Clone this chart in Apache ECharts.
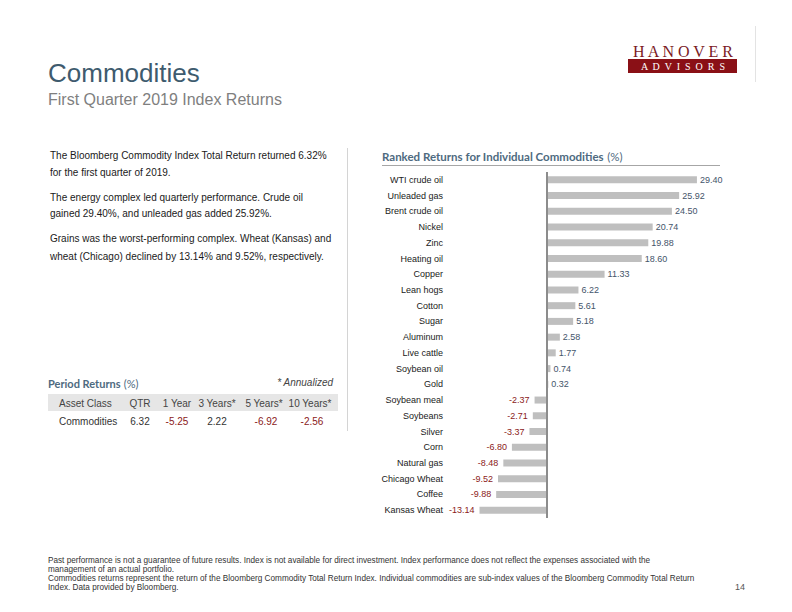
<!DOCTYPE html>
<html>
<head>
<meta charset="utf-8">
<script src="https://cdn.jsdelivr.net/npm/echarts@6/dist/echarts.min.js"></script>
<style>
html,body{margin:0;padding:0;background:#fff;}
#chart{width:792px;height:612px;}
</style>
</head>
<body>
<div id="chart"></div>
<script>
// ---- data ----
const commodities = ['WTI crude oil','Unleaded gas','Brent crude oil','Nickel','Zinc','Heating oil','Copper','Lean hogs','Cotton','Sugar','Aluminum','Live cattle','Soybean oil','Gold','Soybean meal','Soybeans','Silver','Corn','Natural gas','Chicago Wheat','Coffee','Kansas Wheat'];
const returns = [29.40, 25.92, 24.50, 20.74, 19.88, 18.60, 11.33, 6.22, 5.61, 5.18, 2.58, 1.77, 0.74, 0.32, -2.37, -2.71, -3.37, -6.80, -8.48, -9.52, -9.88, -13.14];

const periodHeaders = ['Asset Class','QTR','1 Year','3 Years*','5 Years*','10 Years*'];
const periodAsset = 'Commodities';
const periodValues = [6.32, -5.25, 2.22, -6.92, -2.56];

const bodyLines = [
  ['The Bloomberg Commodity Index Total Return returned 6.32%', 'for the first quarter of 2019.'],
  ['The energy complex led quarterly performance. Crude oil', 'gained 29.40%, and unleaded gas added 25.92%.'],
  ['Grains was the worst-performing complex. Wheat (Kansas) and', 'wheat (Chicago) declined by 13.14% and 9.52%, respectively.']
];
const footerLines = [
  'Past performance is not a guarantee of future results. Index is not available for direct investment. Index performance does not reflect the expenses associated with the',
  'management of an actual portfolio.',
  'Commodities returns represent the return of the Bloomberg Commodity Total Return Index. Individual commodities are sub-index values of the Bloomberg Commodity Total Return',
  'Index. Data provided by Bloomberg.'
];

// ---- styles ----
const SANS = '"Liberation Sans", Arial, sans-serif';
const HUM = 'Lato, "Open Sans", sans-serif';
const POS = '#44546a';
const NEG = '#8b1a1a';
const TITLE_C = '#4e6a80';

const chart = echarts.init(document.getElementById('chart'), null, {renderer: 'svg'});

function txt(x, y, s, font, fill, align, extra) {
  return Object.assign({
    type: 'text', x: x, y: y, silent: true,
    style: {text: s, font: font, fill: fill, textAlign: align || 'left', textVerticalAlign: 'middle'}
  }, extra || {});
}
function richTitle(x, y, main, size) {
  return {
    type: 'text', x: x, y: y, silent: true,
    style: {
      text: '{b|' + main + '} {n|(%)}',
      textAlign: 'left', textVerticalAlign: 'middle',
      rich: {
        b: {fontFamily: HUM, fontWeight: 'bold', fontSize: size, fill: TITLE_C},
        n: {fontFamily: HUM, fontSize: size, fill: TITLE_C}
      }
    }
  };
}

const graphics = [];
// header
graphics.push(txt(48, 73, 'Commodities', '26px ' + SANS, '#3e5b6e'));
graphics.push(txt(48, 99, 'First Quarter 2019 Index Returns', '16px ' + SANS, '#7f7f7f'));
// logo
graphics.push(txt(683, 51, 'H A N O V E R', '16px "Liberation Serif", "DejaVu Serif", serif', '#7a1a1f', 'center'));
graphics.push({type: 'rect', shape: {x: 628, y: 59, width: 109, height: 14}, style: {fill: '#8a1016'}, silent: true});
graphics.push(txt(683, 66.5, 'A  D  V  I  S  O  R  S', '10px "Liberation Serif", "DejaVu Serif", serif', '#ffffff', 'center'));
graphics.push({type: 'line', shape: {x1: 755.5, y1: 26, x2: 755.5, y2: 82}, style: {stroke: '#e3e3e3', lineWidth: 1}, silent: true});

// body paragraphs
const paraY = [[155, 172], [197, 213], [238, 256]];
bodyLines.forEach((p, i) => p.forEach((l, j) => graphics.push(txt(50, paraY[i][j], l, '10px ' + SANS, '#1a1a1a'))));
graphics.push({type: 'line', shape: {x1: 347.5, y1: 148, x2: 347.5, y2: 431}, style: {stroke: '#d4d4d4', lineWidth: 1}, silent: true});

// period returns table
graphics.push(richTitle(48, 383, 'Period Returns', 11));
graphics.push(txt(333, 382, '* Annualized', 'italic 10px ' + SANS, '#444', 'right'));
graphics.push({type: 'rect', shape: {x: 48, y: 394, width: 290, height: 17}, style: {fill: '#e6e6e6'}, silent: true});
const colX = [59, 140, 177, 217, 264, 310];
periodHeaders.forEach((h, i) => graphics.push(txt(colX[i], 403, h, '10px ' + SANS, '#444', i === 0 ? 'left' : 'center')));
graphics.push(txt(colX[0], 421, periodAsset, '10px ' + SANS, '#333'));
periodValues.forEach((v, i) => graphics.push(txt(colX[i + 1] + (i >= 3 ? 2 : 0), 421, v.toFixed(2), '10px ' + SANS, v < 0 ? NEG : '#333', 'center')));

// ranked chart title
graphics.push(richTitle(382, 156, 'Ranked Returns for Individual Commodities', 11.5));
graphics.push({type: 'line', shape: {x1: 382, y1: 165.5, x2: 720, y2: 165.5}, style: {stroke: '#a6a6a6', lineWidth: 1}, silent: true});

// footer
const footY = [560, 569, 578, 587];
footerLines.forEach((l, i) => graphics.push(txt(48, footY[i], l, '8.2px ' + SANS, '#333')));
graphics.push(txt(735, 587, '14', '9px ' + SANS, '#555'));

chart.setOption({
  animation: false,
  backgroundColor: '#ffffff',
  grid: {left: 470, right: 92, top: 172, bottom: 94, containLabel: false},
  xAxis: {
    type: 'value', min: -15, max: 30,
    axisLine: {show: false}, axisTick: {show: false}, axisLabel: {show: false}, splitLine: {show: false}
  },
  yAxis: {
    type: 'category', data: commodities, inverse: true,
    axisLine: {show: false, onZero: false}, axisTick: {show: false},
    axisLabel: {margin: 27, color: '#1a1a1a', fontSize: 9, fontFamily: SANS}
  },
  series: [{
    type: 'bar',
    data: returns.map(v => ({
      value: v,
      label: {
        show: true,
        position: v < 0 ? 'left' : 'right',
        distance: v < 0 ? 5 : 3,
        color: v < 0 ? NEG : POS,
        fontSize: 9, fontFamily: SANS,
        formatter: p => p.value.toFixed(2)
      }
    })),
    barWidth: 7,
    itemStyle: {color: '#bfbfbf'},
    markLine: {
      silent: true, symbol: 'none',
      label: {show: false},
      lineStyle: {color: '#8c8c8c', width: 2, type: 'solid'},
      data: [{xAxis: 0}]
    }
  }],
  graphic: graphics
});
</script>
</body>
</html>
